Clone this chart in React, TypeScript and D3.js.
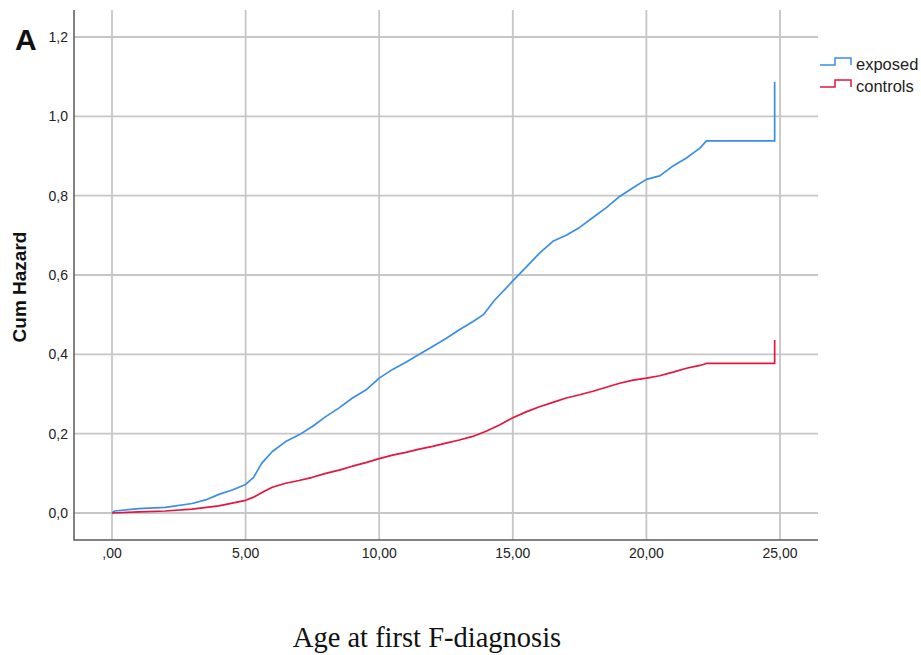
import { useEffect, useRef } from "react";
import * as d3 from "d3";

// age (years) vs cumulative hazard
const exposedAge = [0, 0.1, 1, 2, 3, 3.5, 4, 4.5, 5, 5.3, 5.6, 6, 6.5, 7, 7.5, 8, 8.5, 9, 9.5, 10, 10.5, 11, 11.5, 12, 12.5, 13, 13.5, 13.9, 14.3, 15, 15.5, 16, 16.5, 17, 17.5, 18, 18.5, 19, 19.5, 20, 20.5, 21, 21.5, 22, 22.25, 24.8, 24.8];
const exposedHazard = [0, 0.005, 0.011, 0.014, 0.024, 0.033, 0.047, 0.058, 0.072, 0.09, 0.125, 0.155, 0.18, 0.197, 0.218, 0.243, 0.265, 0.29, 0.31, 0.34, 0.362, 0.38, 0.4, 0.42, 0.44, 0.462, 0.482, 0.5, 0.535, 0.585, 0.62, 0.655, 0.685, 0.7, 0.72, 0.745, 0.77, 0.798, 0.82, 0.841, 0.85, 0.875, 0.895, 0.92, 0.938, 0.938, 1.087];

const controlsAge = [0, 1, 2, 3, 4, 4.5, 5, 5.3, 5.7, 6, 6.5, 7, 7.5, 8, 8.5, 9, 9.5, 10, 10.5, 11, 11.5, 12, 12.5, 13, 13.5, 14, 14.5, 15, 15.5, 16, 16.5, 17, 17.5, 18, 18.5, 19, 19.5, 20, 20.5, 21, 21.5, 22, 22.25, 24.8, 24.8];
const controlsHazard = [0, 0.003, 0.005, 0.01, 0.018, 0.025, 0.032, 0.04, 0.055, 0.065, 0.075, 0.082, 0.09, 0.1, 0.108, 0.118, 0.127, 0.137, 0.146, 0.153, 0.161, 0.168, 0.176, 0.184, 0.193, 0.206, 0.222, 0.24, 0.255, 0.268, 0.279, 0.29, 0.298, 0.307, 0.317, 0.327, 0.335, 0.34, 0.346, 0.355, 0.365, 0.372, 0.377, 0.377, 0.436];

const xTicks = [0, 5, 10, 15, 20, 25];
const yTicks = [0, 0.2, 0.4, 0.6, 0.8, 1.0, 1.2];

const series = [
  { name: "exposed", ages: exposedAge, values: exposedHazard, color: "#3a8ee6" },
  { name: "controls", ages: controlsAge, values: controlsHazard, color: "#e3163f" },
];

export default function App() {
  const svgRef = useRef<SVGSVGElement>(null);

  useEffect(() => {
    if (!svgRef.current) return;
    const svg = d3.select(svgRef.current);
    svg.selectAll("*").remove();

    const frame = { left: 74, right: 818, top: 10, bottom: 540 };
    const x = d3.scaleLinear().domain([0, 25]).range([112, 780]);
    const y = d3.scaleLinear().domain([0, 1.2]).range([513, 37]);
    const sans = "Arial, 'Liberation Sans', sans-serif";

    // grid
    svg
      .append("g")
      .selectAll("line")
      .data(yTicks)
      .join("line")
      .attr("x1", frame.left)
      .attr("x2", frame.right)
      .attr("y1", (d) => y(d))
      .attr("y2", (d) => y(d))
      .attr("stroke", "#c6c6c6")
      .attr("stroke-width", 1.8);

    svg
      .append("g")
      .selectAll("line")
      .data(xTicks)
      .join("line")
      .attr("x1", (d) => x(d))
      .attr("x2", (d) => x(d))
      .attr("y1", frame.top)
      .attr("y2", frame.bottom)
      .attr("stroke", "#c6c6c6")
      .attr("stroke-width", 1.8);

    // axis lines
    svg
      .append("path")
      .attr("d", `M${frame.left},${frame.top}V${frame.bottom}H${frame.right}`)
      .attr("fill", "none")
      .attr("stroke", "#5a5a5a")
      .attr("stroke-width", 1.5);

    // tick labels
    svg
      .append("g")
      .selectAll("text")
      .data(yTicks)
      .join("text")
      .attr("x", 68)
      .attr("y", (d) => y(d) + 5)
      .attr("text-anchor", "end")
      .attr("font-family", sans)
      .attr("font-size", 14)
      .attr("fill", "#222")
      .text((d) => d.toFixed(1).replace(".", ","));

    svg
      .append("g")
      .selectAll("text")
      .data(xTicks)
      .join("text")
      .attr("x", (d) => x(d))
      .attr("y", 558)
      .attr("text-anchor", "middle")
      .attr("font-family", sans)
      .attr("font-size", 14)
      .attr("fill", "#222")
      .text((d) => (d === 0 ? ",00" : d.toFixed(2).replace(".", ",")));

    // curves
    const line = d3
      .line<[number, number]>()
      .x((d) => x(d[0]))
      .y((d) => y(d[1]));

    series.forEach((s) => {
      const pts: [number, number][] = s.ages.map((a, i) => [a, s.values[i]]);
      svg
        .append("path")
        .datum(pts)
        .attr("d", line)
        .attr("fill", "none")
        .attr("stroke", s.color)
        .attr("stroke-width", 1.7)
        .attr("stroke-linejoin", "round");
    });

    // legend
    series.forEach((s, i) => {
      const ly = 65 + i * 22;
      svg
        .append("path")
        .attr("d", `M820,${ly}H835V${ly - 7}H851V${ly}`)
        .attr("fill", "none")
        .attr("stroke", s.color)
        .attr("stroke-width", 1.5);
      svg
        .append("text")
        .attr("x", 856)
        .attr("y", ly + 5)
        .attr("font-family", sans)
        .attr("font-size", 16.5)
        .attr("fill", "#222")
        .text(s.name);
    });

    // titles
    svg
      .append("text")
      .attr("x", 15)
      .attr("y", 50)
      .attr("font-family", sans)
      .attr("font-weight", "bold")
      .attr("font-size", 30)
      .attr("fill", "#111")
      .text("A");

    svg
      .append("text")
      .attr("transform", "translate(26,287) rotate(-90)")
      .attr("text-anchor", "middle")
      .attr("font-family", sans)
      .attr("font-weight", "bold")
      .attr("font-size", 19)
      .attr("fill", "#111")
      .text("Cum Hazard");

    svg
      .append("text")
      .attr("x", 427)
      .attr("y", 647)
      .attr("text-anchor", "middle")
      .attr("font-family", "'Times New Roman', 'Liberation Serif', serif")
      .attr("font-size", 28.5)
      .attr("fill", "#111")
      .text("Age at first F-diagnosis");
  }, []);

  return (
    <svg
      ref={svgRef}
      width={921}
      height={655}
      style={{ position: "absolute", left: 0, top: 0, background: "#fff" }}
    ></svg>
  );
}
